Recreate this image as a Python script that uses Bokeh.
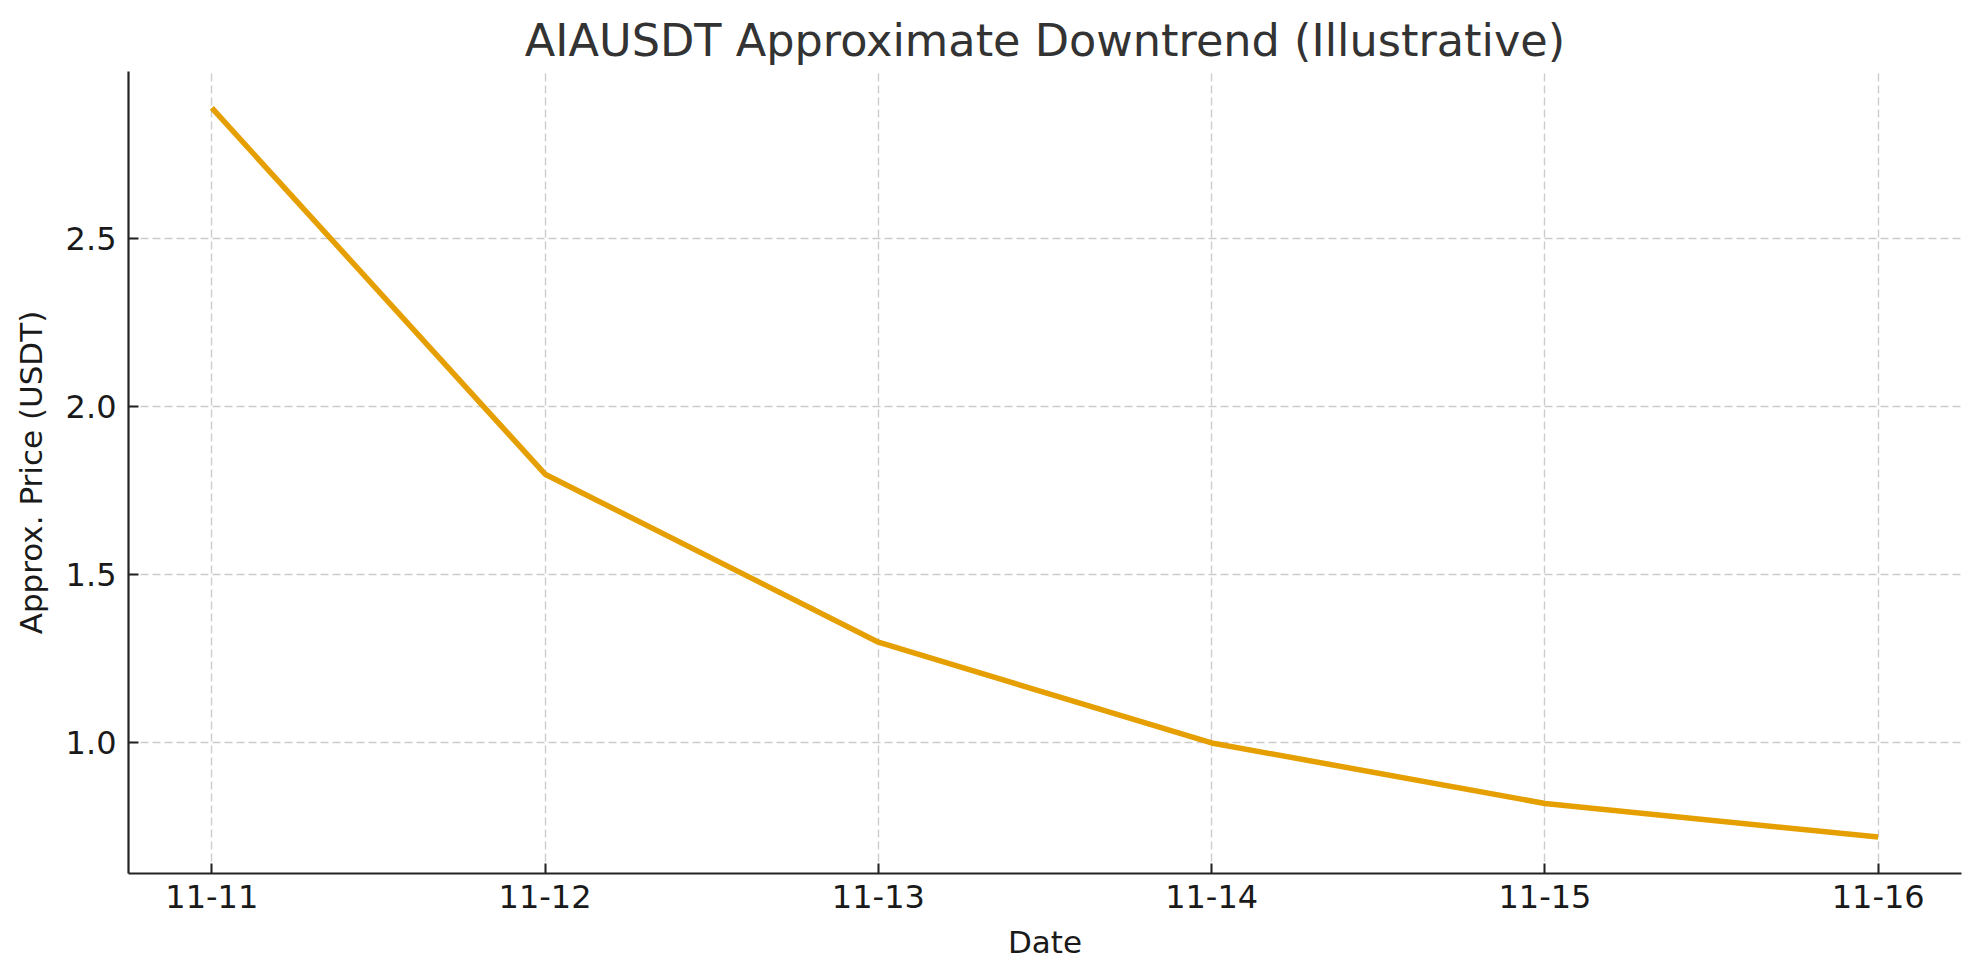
from bokeh.plotting import figure
from bokeh.models import Range1d, FixedTicker, NumeralTickFormatter
from bokeh.embed import file_html
from bokeh.resources import INLINE

dates = ["11-11", "11-12", "11-13", "11-14", "11-15", "11-16"]
prices = [2.89, 1.80, 1.30, 1.00, 0.82, 0.72]
y_ticks = [1.0, 1.5, 2.0, 2.5]

xs = list(range(len(dates)))
lo, hi = min(prices), max(prices)
pad = (hi - lo) * 0.05
xpad = (len(dates) - 1) * 0.05

FONT = "DejaVu Sans"

p = figure(width=1963, height=964, output_backend="svg", toolbar_location=None,
           x_range=Range1d(-xpad, len(dates) - 1 + xpad),
           y_range=Range1d(lo - pad, hi + pad),
           min_border_left=128, min_border_right=2,
           min_border_top=71, min_border_bottom=91)
p.outline_line_color = None
p.background_fill_color = "white"
p.border_fill_color = "white"

p.title.text = "AIAUSDT Approximate Downtrend (Illustrative)"
p.title.align = "center"
p.title.text_font = FONT
p.title.text_font_size = "44.6px"
p.title.text_font_style = "normal"
p.title.text_color = "#333333"

p.line(xs, prices, line_color="#E69F00", line_width=5.5)

for ax in (p.xaxis, p.yaxis):
    ax.axis_line_width = 2.2
    ax.axis_line_color = "#222222"
    ax.major_tick_line_width = 2
    ax.major_tick_line_color = "#222222"
    ax.major_tick_in = 10
    ax.major_tick_out = 0
    ax.minor_tick_line_color = None
    ax.major_label_text_font = FONT
    ax.major_label_text_font_size = "32px"
    ax.major_label_text_color = "#1a1a1a"
    ax.axis_label_text_font = FONT
    ax.axis_label_text_font_size = "31px"
    ax.axis_label_text_font_style = "normal"
    ax.axis_label_text_color = "#1a1a1a"

p.xaxis.ticker = FixedTicker(ticks=xs)
p.xaxis.major_label_overrides = {i: d for i, d in enumerate(dates)}
p.xaxis.axis_label = "Date"
p.xaxis.major_label_standoff = 11
p.xaxis.axis_label_standoff = 13

p.yaxis.ticker = FixedTicker(ticks=y_ticks)
p.yaxis.formatter = NumeralTickFormatter(format="0.0")
p.yaxis.axis_label = "Approx. Price (USDT)"
p.yaxis.major_label_standoff = 12
p.yaxis.axis_label_standoff = 14

for g in (p.xgrid, p.ygrid):
    g.grid_line_color = "#cccccc"
    g.grid_line_width = 1.4
    g.grid_line_dash = "8 4"

open("out.html", "w").write(file_html(p, INLINE))
